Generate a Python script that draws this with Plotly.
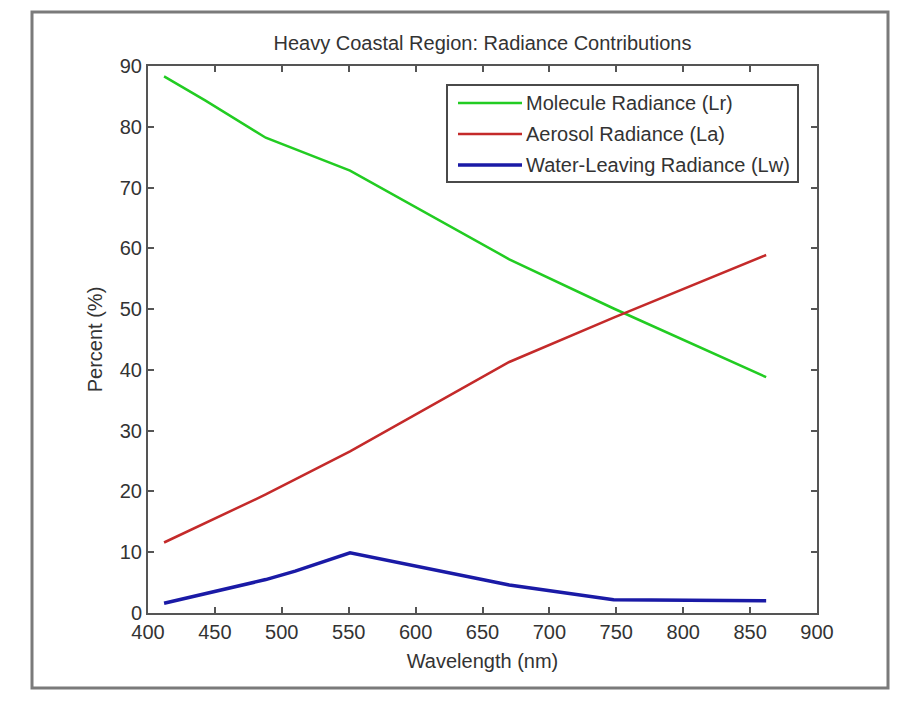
import plotly.graph_objects as go

wavelength = [412, 443, 488, 510, 551, 670, 748, 862]
molecule = [88.3, 84.3, 78.2, 76.3, 72.8, 58.2, 50.1, 38.8]
aerosol = [11.6, 14.8, 19.5, 22.0, 26.6, 41.3, 48.6, 58.9]
water = [1.6, 3.2, 5.5, 6.9, 9.9, 4.6, 2.2, 2.0]

names = ["Molecule Radiance (Lr)", "Aerosol Radiance (La)", "Water-Leaving Radiance (Lw)"]
colors = ["#22cc22", "#c42a2a", "#1a1aa6"]
widths = [2.5, 2.5, 3.5]
title_text = "Heavy Coastal Region: Radiance Contributions"
x_label = "Wavelength (nm)"
y_label = "Percent (%)"
x_ticks = [400, 450, 500, 550, 600, 650, 700, 750, 800, 850, 900]
y_ticks = [0, 10, 20, 30, 40, 50, 60, 70, 80, 90]

FONT = "Liberation Sans, Arial, sans-serif"
FS = 20
TXT = "#333333"
fig = go.Figure()
for vals, nm, c, w in zip([molecule, aerosol, water], names, colors, widths):
    fig.add_trace(go.Scatter(x=wavelength, y=vals, mode="lines", name=nm,
                             line=dict(color=c, width=w), showlegend=False))

OFF = 8  # page body margin
W, H = 898, 720
L, R, T, B = 148, 817, 66, 613  # target plot area in screen pixels
PW, PH = R - L, B - T
def px(x):
    return (x - L) / PW
def py(y):
    return (B - y) / PH

shapes = []
shapes.append(dict(type="rect", xref="paper", yref="paper",
                   x0=px(32), x1=px(888), y0=py(688), y1=py(12),
                   line=dict(color="#7a7a7a", width=3), layer="below"))
shapes.append(dict(type="rect", xref="paper", yref="paper",
                   x0=px(447), x1=px(798), y0=py(182), y1=py(85),
                   line=dict(color="#4a4a4a", width=2), fillcolor="white"))
rows = [103, 134, 165]
annotations = []
for r, nm, c, w in zip(rows, names, colors, widths):
    shapes.append(dict(type="line", xref="paper", yref="paper",
                       x0=px(458), x1=px(522), y0=py(r), y1=py(r),
                       line=dict(color=c, width=w)))
    annotations.append(dict(xref="paper", yref="paper", x=px(524), y=py(r),
                            text=nm, showarrow=False, xanchor="left", yanchor="middle",
                            font=dict(family=FONT, size=FS, color=TXT)))

axis_common = dict(showline=True, linecolor="#555555", linewidth=2, mirror="ticks",
                   ticks="inside", ticklen=6, tickwidth=1.5, tickcolor="#555555",
                   showgrid=False, zeroline=False,
                   tickfont=dict(family=FONT, size=FS, color=TXT))

fig.update_layout(
    width=W, height=H,
    margin=dict(l=L - OFF, r=W - (R - OFF), t=T - OFF, b=H - (B - OFF)),
    paper_bgcolor="white", plot_bgcolor="white",
    title=dict(text=title_text, x=0.5, xref="paper", y=1 - (43 - OFF) / H, yanchor="middle",
               xanchor="center", font=dict(family=FONT, size=FS, color=TXT)),
    xaxis=dict(range=[400, 900], tickvals=x_ticks,
               title=dict(text=x_label, standoff=12, font=dict(family=FONT, size=FS, color=TXT)),
               **axis_common),
    yaxis=dict(range=[0, 90], tickvals=y_ticks,
               title=dict(text=y_label, standoff=12, font=dict(family=FONT, size=FS, color=TXT)),
               **axis_common),
    shapes=shapes, annotations=annotations,
)
fig.write_html("out.html")
